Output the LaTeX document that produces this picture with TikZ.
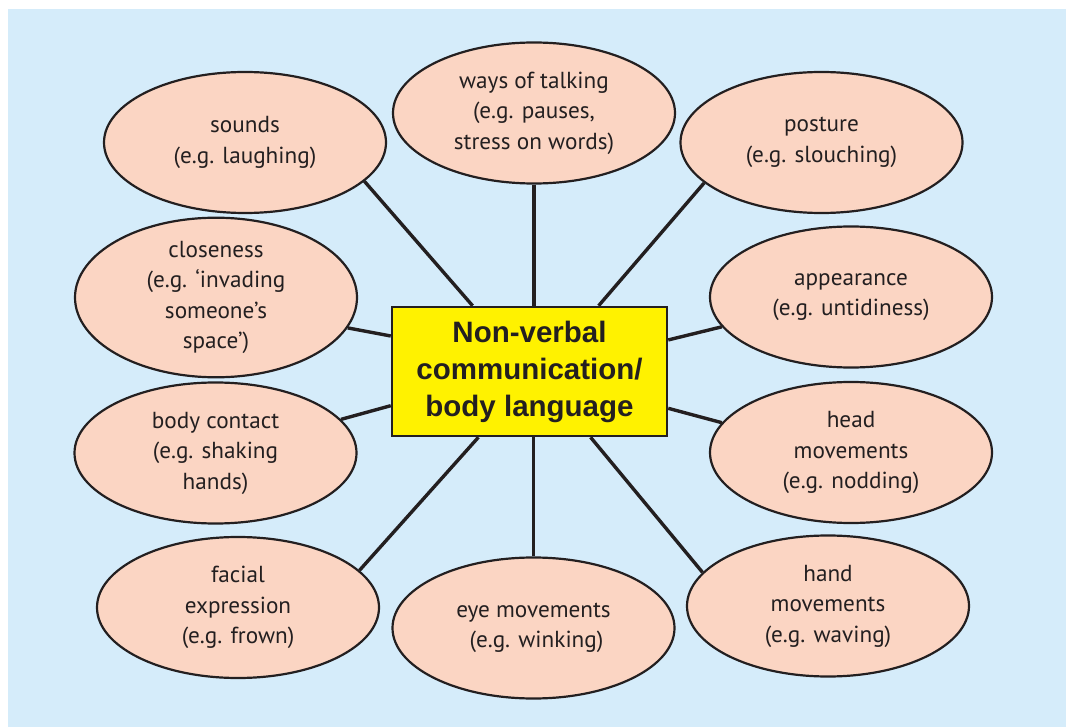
\documentclass[tikz,border=0pt]{standalone}
\usepackage{fontspec}
\setmainfont{PT Sans}
\newfontfamily\titlefont{Liberation Sans}
\usetikzlibrary{shapes.geometric,calc}
\definecolor{bgblue}{RGB}{213,236,250}
\definecolor{peach}{RGB}{251,213,195}
\definecolor{boxyellow}{RGB}{255,242,0}
\definecolor{ink}{RGB}{35,31,32}
\tikzset{
  bubble/.style={ellipse, draw=ink, line width=2.2pt, fill=peach, inner sep=0pt,
    minimum width=282pt, minimum height=141pt, align=center, text=ink,
    font=\fontsize{23.2}{30.5}\selectfont},
  titlebox/.style={rectangle, draw=ink, line width=2.5pt, fill=boxyellow, inner sep=0pt,
    minimum width=275pt, minimum height=129pt, align=center, text=ink,
    font=\titlefont\bfseries\fontsize{29.5}{37}\selectfont},
  conn/.style={draw=ink, line width=3.4pt}
}
\begin{document}
\begin{tikzpicture}[x=1pt,y=-1pt]
\useasboundingbox (0,0) rectangle (1066,727);
\fill[bgblue] (8,9) rectangle (1066,727);

\node[titlebox] (box) at (529.5,371.5) {Non-verbal\\communication/\\body language};

\node[bubble] (sounds) at (245,142.5) {sounds\\(e.g. laughing)};
\node[bubble] (ways) at (534,113) {ways of talking\\(e.g. pauses,\\stress on words)};
\node[bubble] (posture) at (821.5,142.5) {posture\\(e.g. slouching)};
\node[bubble] (closeness) at (216,297.5) {closeness\\(e.g. ‘invading\\someone’s\\space’)};
\node[bubble] (appearance) at (851,297) {appearance\\(e.g. untidiness)};
\node[bubble] (contact) at (215.5,453) {body contact\\(e.g. shaking\\hands)};
\node[bubble] (head) at (851,452.5) {head\\movements\\(e.g. nodding)};
\node[bubble] (facial) at (238,607.5) {facial\\expression\\(e.g. frown)};
\node[bubble] (eye) at (533.5,628) {eye movements\\\hspace*{6pt}(e.g. winking)};
\node[bubble] (hand) at (828,606) {hand\\movements\\(e.g. waving)};

\draw[conn] (sounds.-18) -- ($(box.north west)!0.295!(box.north east)$);
\draw[conn] (ways.south) -- (ways.south |- box.north);
\draw[conn] (posture.-161) -- ($(box.north west)!0.749!(box.north east)$);
\draw[conn] (closeness.-13) -- ($(box.north west)!0.23!(box.south west)$);
\draw[conn] (appearance.-167) -- ($(box.north east)!0.26!(box.south east)$);
\draw[conn] (contact.15) -- ($(box.north west)!0.76!(box.south west)$);
\draw[conn] (head.167) -- ($(box.north east)!0.78!(box.south east)$);
\draw[conn] (facial.17) -- ($(box.south west)!0.316!(box.south east)$);
\draw[conn] (eye.north) -- (eye.north |- box.south);
\draw[conn] (hand.165) -- ($(box.south west)!0.72!(box.south east)$);
\end{tikzpicture}
\end{document}
